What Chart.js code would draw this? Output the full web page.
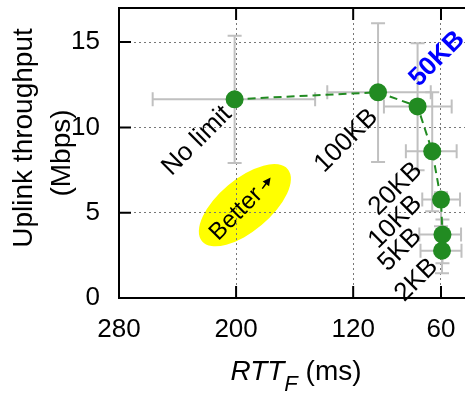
<!DOCTYPE html>
<html>
<head>
<meta charset="utf-8">
<script src="https://cdn.jsdelivr.net/npm/chart.js@4/dist/chart.umd.min.js"></script>
<style>
  html, body { margin: 0; padding: 0; background: #fff; overflow: hidden; }
</style>
</head>
<body>
<canvas id="rttChart" width="465" height="397"></canvas>
<script>
// Buffer limits with their RTT (ms) and uplink throughput (Mbps)
const limits = ["No limit", "100KB", "50KB", "20KB", "10KB", "5KB", "2KB"];
const rtt = [201, 103, 76, 66, 60, 59, 59.3];
const rttLow = [146, 67, 52.7, 49.3, 47, 46.3, 46];
const rttHigh = [257, 137.7, 99, 84, 72.8, 74.8, 74];
const throughput = [11.65, 12.06, 11.23, 8.6, 5.77, 3.72, 2.77];
const tputLow = [7.91, 7.97, 7.49, 5.09, 4.2, 2.03, 1.45];
const tputHigh = [15.38, 16.1, 14.93, 12.06, 6.2, 4.6, 3.5];
const xTicks = [280, 200, 120, 60];
const yTicks = [0, 5, 10, 15];

const FONT = "'Liberation Sans', Arial, sans-serif";
const GREEN = "#228B22";

// white background + yellow "Better" ellipse (under the grid)
const backdrop = {
  id: "backdrop",
  beforeDraw(chart, args, opts) {
    const { ctx, scales: { x, y } } = chart;
    ctx.save();
    ctx.fillStyle = "#fff";
    ctx.fillRect(0, 0, chart.width, chart.height);
    ctx.fillStyle = "#ffff00";
    ctx.beginPath();
    ctx.ellipse(x.getPixelForValue(opts.at[0]), y.getPixelForValue(opts.at[1]),
      56, 26, -40 * Math.PI / 180, 0, Math.PI * 2);
    ctx.fill();
    ctx.restore();
  }
};

// grey error bars in both directions
const errorBars = {
  id: "errorBars",
  beforeDatasetsDraw(chart) {
    const { ctx, scales: { x, y } } = chart;
    const cap = 7;
    ctx.save();
    ctx.strokeStyle = "#c0c0c0";
    ctx.lineWidth = 2;
    rtt.forEach((v, i) => {
      const px = x.getPixelForValue(v);
      const py = y.getPixelForValue(throughput[i]);
      const x1 = x.getPixelForValue(rttLow[i]);
      const x2 = x.getPixelForValue(rttHigh[i]);
      const y1 = y.getPixelForValue(tputLow[i]);
      const y2 = y.getPixelForValue(tputHigh[i]);
      ctx.beginPath();
      ctx.moveTo(x1, py); ctx.lineTo(x2, py);
      ctx.moveTo(x1, py - cap); ctx.lineTo(x1, py + cap);
      ctx.moveTo(x2, py - cap); ctx.lineTo(x2, py + cap);
      ctx.moveTo(px, y1); ctx.lineTo(px, y2);
      ctx.moveTo(px - cap, y1); ctx.lineTo(px + cap, y1);
      ctx.moveTo(px - cap, y2); ctx.lineTo(px + cap, y2);
      ctx.stroke();
    });
    ctx.restore();
  }
};

// rotated point labels and the "Better" note
const pointLabels = {
  id: "pointLabels",
  afterDatasetsDraw(chart, args, opts) {
    const { ctx, scales: { x, y } } = chart;
    limits.forEach((name, i) => {
      const off = opts.offsets[i];
      const hl = i === opts.highlight;
      ctx.save();
      ctx.translate(x.getPixelForValue(rtt[i]) + off[0], y.getPixelForValue(throughput[i]) + off[1]);
      ctx.rotate(-Math.PI / 4);
      ctx.font = (hl ? "bold " : "") + "26px " + FONT;
      ctx.fillStyle = hl ? "#0000ff" : "#000";
      ctx.textAlign = hl ? "left" : "right";
      ctx.textBaseline = "middle";
      ctx.fillText(name, 0, 0);
      ctx.restore();
    });

    // "Better" with a small arrow
    ctx.save();
    ctx.translate(x.getPixelForValue(opts.better[0]), y.getPixelForValue(opts.better[1]));
    ctx.rotate(-Math.PI / 4);
    ctx.font = "24px " + FONT;
    ctx.fillStyle = "#000";
    ctx.textAlign = "center";
    ctx.textBaseline = "middle";
    ctx.fillText("Better", 0, 0);
    const w = ctx.measureText("Better").width / 2;
    ctx.rotate(-0.15);
    ctx.strokeStyle = "#000";
    ctx.lineWidth = 1.5;
    ctx.beginPath();
    ctx.moveTo(w + 4, 6); ctx.lineTo(w + 12, 6);
    ctx.stroke();
    ctx.beginPath();
    ctx.moveTo(w + 18, 6); ctx.lineTo(w + 10, 2); ctx.lineTo(w + 10, 10);
    ctx.closePath();
    ctx.fill();
    ctx.restore();
  }
};

// frame (open on the right, cut by the picture edge), inward ticks, axis titles
const frame = {
  id: "frame",
  afterDraw(chart) {
    const { ctx, chartArea: a, scales: { x, y } } = chart;
    ctx.save();
    ctx.strokeStyle = "#000";
    ctx.lineWidth = 2;
    ctx.beginPath();
    ctx.moveTo(a.right + 2, a.top); ctx.lineTo(a.left, a.top);
    ctx.lineTo(a.left, a.bottom); ctx.lineTo(a.right + 2, a.bottom);
    xTicks.forEach(v => {
      const px = x.getPixelForValue(v);
      ctx.moveTo(px, a.bottom); ctx.lineTo(px, a.bottom - 12);
      ctx.moveTo(px, a.top); ctx.lineTo(px, a.top + 12);
    });
    yTicks.forEach(v => {
      const py = y.getPixelForValue(v);
      ctx.moveTo(a.left, py); ctx.lineTo(a.left + 12, py);
    });
    ctx.stroke();

    ctx.fillStyle = "#000";
    ctx.textBaseline = "middle";
    ctx.textAlign = "center";
    ctx.font = "28px " + FONT;
    const midY = (a.top + a.bottom) / 2;
    ctx.save();
    ctx.translate(a.left - 95, midY - 15);
    ctx.rotate(-Math.PI / 2);
    ctx.fillText("Uplink throughput", 0, 0);
    ctx.restore();
    ctx.save();
    ctx.translate(a.left - 57, midY);
    ctx.rotate(-Math.PI / 2);
    ctx.fillText("(Mbps)", 0, 0);
    ctx.restore();

    // RTT_F (ms)
    ctx.textBaseline = "alphabetic";
    ctx.textAlign = "left";
    const parts = [
      { t: "RTT", f: "italic 28px " + FONT, dy: 0 },
      { t: "F", f: "italic 22px " + FONT, dy: 11 },
      { t: " (ms)", f: "28px " + FONT, dy: 0 }
    ];
    let total = 0;
    parts.forEach(p => { ctx.font = p.f; p.w = ctx.measureText(p.t).width; total += p.w; });
    let cx = a.left + 177 - total / 2;
    const base = a.bottom + 82;
    parts.forEach(p => { ctx.font = p.f; ctx.fillText(p.t, cx, base + p.dy); cx += p.w; });
    ctx.restore();
  }
};

// pin the plot box: no extra label padding around the axes
const noPad = (s) => { s.paddingTop = 0; s.paddingBottom = 0; s.paddingLeft = 0; s.paddingRight = 0; };

const ctx = document.getElementById("rttChart").getContext("2d");
new Chart(ctx, {
  type: "scatter",
  data: {
    datasets: [
      {
        data: rtt.map((v, i) => ({ x: v, y: throughput[i] })),
        showLine: true,
        borderColor: GREEN,
        borderWidth: 2,
        borderDash: [8, 5],
        pointRadius: 9,
        pointBackgroundColor: GREEN,
        pointBorderWidth: 0,
      },
    ],
  },
  options: {
    responsive: false,
    animation: false,
    layout: { autoPadding: false, padding: { top: 8, right: 0, left: 0, bottom: 0 } },
    plugins: {
      legend: { display: false },
      tooltip: { enabled: false },
      backdrop: { at: [194, 5.44] },
      pointLabels: {
        highlight: 2,
        offsets: [[-7, 11], [-4, 21], [-4, -24], [-14, 15], [-23, 0], [-25, -2], [-8, 12]],
        better: [200, 4.92],
      },
    },
    scales: {
      x: {
        type: "linear",
        reverse: true,
        min: 43.6,
        max: 280,
        afterBuildTicks: (s) => { s.ticks = xTicks.map(v => ({ value: v })); },
        afterFit: (s) => { s.height = 99; noPad(s); },
        grid: { color: "#777", lineWidth: 1, drawTicks: false },
        border: { display: false, dash: [2, 3] },
        ticks: { color: "#000", font: { family: FONT, size: 26 }, padding: 16, maxRotation: 0 },
      },
      y: {
        min: 0,
        max: 17,
        afterBuildTicks: (s) => { s.ticks = yTicks.map(v => ({ value: v })); },
        afterFit: (s) => { s.width = 119; noPad(s); },
        grid: { color: "#777", lineWidth: 1, drawTicks: false },
        border: { display: false, dash: [2, 3] },
        ticks: { color: "#000", font: { family: FONT, size: 26 }, padding: 19 },
      },
    },
  },
  plugins: [backdrop, errorBars, pointLabels, frame],
});
</script>
</body>
</html>
